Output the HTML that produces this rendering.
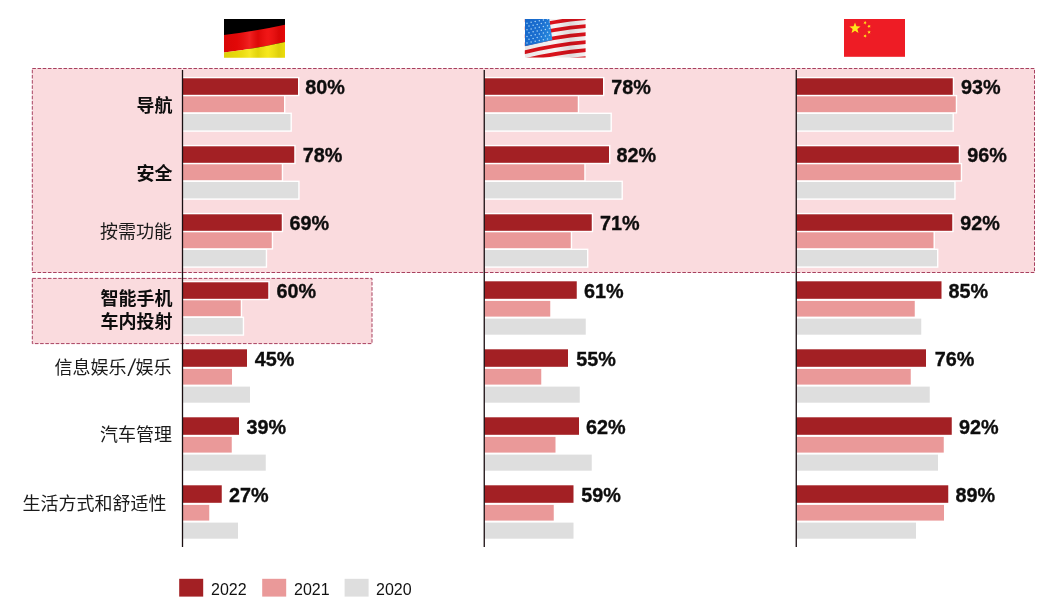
<!DOCTYPE html>
<html lang="zh"><head><meta charset="utf-8"><title>chart</title>
<style>
html,body{margin:0;padding:0;background:#fff;}
body{width:1039px;height:613px;overflow:hidden;position:relative;}
svg{position:absolute;left:0;top:0;display:block;filter:blur(0.45px);}
.p{font-family:"Liberation Sans","Noto Sans CJK SC",sans-serif;font-weight:700;font-size:20.5px;fill:#0d0d0d;stroke:#0d0d0d;stroke-width:0.35px;}
.l{font-family:"Liberation Sans","Noto Sans CJK SC",sans-serif;font-size:18px;fill:#1a1a1a;text-anchor:end;}
.b{font-weight:700;fill:#0d0d0d;}
.g{font-family:"Liberation Sans","Noto Sans CJK SC",sans-serif;font-size:16px;fill:#111;}
</style></head><body>
<svg width="1039" height="613" viewBox="0 0 1039 613">
<rect width="1039" height="613" fill="#fff"/>

<rect x="32.3" y="68.5" width="1002.2" height="204" fill="#FADBDE" stroke="#A8405F" stroke-width="1" stroke-dasharray="3.6 1.6"/>
<rect x="32.3" y="278.4" width="339.7" height="65.2" fill="#FADBDE" stroke="#A8405F" stroke-width="1" stroke-dasharray="3.6 1.6"/>
<rect x="182.50" y="76.90" width="116.90" height="19.30" fill="#fff"/>
<rect x="182.50" y="94.90" width="102.90" height="18.70" fill="#fff"/>
<rect x="182.50" y="112.60" width="109.40" height="19.20" fill="#fff"/>
<rect x="182.50" y="78.30" width="115.50" height="16.50" fill="#A32024"/>
<rect x="182.50" y="96.30" width="101.50" height="15.90" fill="#EA9999"/>
<rect x="182.50" y="114.00" width="108.00" height="16.40" fill="#DEDEDE"/>
<text class="p" transform="translate(305.30,93.70) scale(0.966,1)">80%</text>
<rect x="182.50" y="144.90" width="113.15" height="19.30" fill="#fff"/>
<rect x="182.50" y="162.90" width="100.65" height="18.70" fill="#fff"/>
<rect x="182.50" y="180.60" width="117.15" height="19.20" fill="#fff"/>
<rect x="182.50" y="146.30" width="111.75" height="16.50" fill="#A32024"/>
<rect x="182.50" y="164.30" width="99.25" height="15.90" fill="#EA9999"/>
<rect x="182.50" y="182.00" width="115.75" height="16.40" fill="#DEDEDE"/>
<text class="p" transform="translate(302.75,161.70) scale(0.966,1)">78%</text>
<rect x="182.50" y="212.90" width="100.65" height="19.30" fill="#fff"/>
<rect x="182.50" y="230.90" width="90.65" height="18.70" fill="#fff"/>
<rect x="182.50" y="248.60" width="84.65" height="19.20" fill="#fff"/>
<rect x="182.50" y="214.30" width="99.25" height="16.50" fill="#A32024"/>
<rect x="182.50" y="232.30" width="89.25" height="15.90" fill="#EA9999"/>
<rect x="182.50" y="250.00" width="83.25" height="16.40" fill="#DEDEDE"/>
<text class="p" transform="translate(289.50,229.70) scale(0.966,1)">69%</text>
<rect x="182.50" y="280.90" width="87.15" height="19.30" fill="#fff"/>
<rect x="182.50" y="298.90" width="59.65" height="18.70" fill="#fff"/>
<rect x="182.50" y="316.60" width="61.65" height="19.20" fill="#fff"/>
<rect x="182.50" y="282.30" width="85.75" height="16.50" fill="#A32024"/>
<rect x="182.50" y="300.30" width="58.25" height="15.90" fill="#EA9999"/>
<rect x="182.50" y="318.00" width="60.25" height="16.40" fill="#DEDEDE"/>
<text class="p" transform="translate(276.50,297.70) scale(0.966,1)">60%</text>
<rect x="182.50" y="349.30" width="64.50" height="17.50" fill="#A32024"/>
<rect x="182.50" y="368.90" width="49.50" height="15.70" fill="#EA9999"/>
<rect x="182.50" y="386.60" width="67.50" height="16.10" fill="#DEDEDE"/>
<text class="p" transform="translate(254.80,365.70) scale(0.966,1)">45%</text>
<rect x="182.50" y="417.30" width="56.50" height="17.50" fill="#A32024"/>
<rect x="182.50" y="436.90" width="49.25" height="15.70" fill="#EA9999"/>
<rect x="182.50" y="454.60" width="83.25" height="16.10" fill="#DEDEDE"/>
<text class="p" transform="translate(246.45,433.70) scale(0.966,1)">39%</text>
<rect x="182.50" y="485.30" width="39.25" height="17.50" fill="#A32024"/>
<rect x="182.50" y="504.90" width="26.75" height="15.70" fill="#EA9999"/>
<rect x="182.50" y="522.60" width="55.50" height="16.10" fill="#DEDEDE"/>
<text class="p" transform="translate(229.05,501.70) scale(0.966,1)">27%</text>
<rect x="484.25" y="76.90" width="120.15" height="19.30" fill="#fff"/>
<rect x="484.25" y="94.90" width="94.90" height="18.70" fill="#fff"/>
<rect x="484.25" y="112.60" width="127.65" height="19.20" fill="#fff"/>
<rect x="484.25" y="78.30" width="118.75" height="16.50" fill="#A32024"/>
<rect x="484.25" y="96.30" width="93.50" height="15.90" fill="#EA9999"/>
<rect x="484.25" y="114.00" width="126.25" height="16.40" fill="#DEDEDE"/>
<text class="p" transform="translate(611.25,93.70) scale(0.966,1)">78%</text>
<rect x="484.25" y="144.90" width="126.15" height="19.30" fill="#fff"/>
<rect x="484.25" y="162.90" width="101.40" height="18.70" fill="#fff"/>
<rect x="484.25" y="180.60" width="138.65" height="19.20" fill="#fff"/>
<rect x="484.25" y="146.30" width="124.75" height="16.50" fill="#A32024"/>
<rect x="484.25" y="164.30" width="100.00" height="15.90" fill="#EA9999"/>
<rect x="484.25" y="182.00" width="137.25" height="16.40" fill="#DEDEDE"/>
<text class="p" transform="translate(616.50,161.70) scale(0.966,1)">82%</text>
<rect x="484.25" y="212.90" width="108.90" height="19.30" fill="#fff"/>
<rect x="484.25" y="230.90" width="87.90" height="18.70" fill="#fff"/>
<rect x="484.25" y="248.60" width="104.15" height="19.20" fill="#fff"/>
<rect x="484.25" y="214.30" width="107.50" height="16.50" fill="#A32024"/>
<rect x="484.25" y="232.30" width="86.50" height="15.90" fill="#EA9999"/>
<rect x="484.25" y="250.00" width="102.75" height="16.40" fill="#DEDEDE"/>
<text class="p" transform="translate(600.00,229.70) scale(0.966,1)">71%</text>
<rect x="484.25" y="281.30" width="92.50" height="17.50" fill="#A32024"/>
<rect x="484.25" y="300.90" width="66.00" height="15.70" fill="#EA9999"/>
<rect x="484.25" y="318.60" width="101.50" height="16.10" fill="#DEDEDE"/>
<text class="p" transform="translate(584.00,297.70) scale(0.966,1)">61%</text>
<rect x="484.25" y="349.30" width="83.75" height="17.50" fill="#A32024"/>
<rect x="484.25" y="368.90" width="57.00" height="15.70" fill="#EA9999"/>
<rect x="484.25" y="386.60" width="95.50" height="16.10" fill="#DEDEDE"/>
<text class="p" transform="translate(576.25,365.70) scale(0.966,1)">55%</text>
<rect x="484.25" y="417.30" width="94.75" height="17.50" fill="#A32024"/>
<rect x="484.25" y="436.90" width="71.25" height="15.70" fill="#EA9999"/>
<rect x="484.25" y="454.60" width="107.50" height="16.10" fill="#DEDEDE"/>
<text class="p" transform="translate(586.00,433.70) scale(0.966,1)">62%</text>
<rect x="484.25" y="485.30" width="89.25" height="17.50" fill="#A32024"/>
<rect x="484.25" y="504.90" width="69.50" height="15.70" fill="#EA9999"/>
<rect x="484.25" y="522.60" width="89.25" height="16.10" fill="#DEDEDE"/>
<text class="p" transform="translate(581.25,501.70) scale(0.966,1)">59%</text>
<rect x="796.25" y="76.90" width="157.90" height="19.30" fill="#fff"/>
<rect x="796.25" y="94.90" width="160.90" height="18.70" fill="#fff"/>
<rect x="796.25" y="112.60" width="157.65" height="19.20" fill="#fff"/>
<rect x="796.25" y="78.30" width="156.50" height="16.50" fill="#A32024"/>
<rect x="796.25" y="96.30" width="159.50" height="15.90" fill="#EA9999"/>
<rect x="796.25" y="114.00" width="156.25" height="16.40" fill="#DEDEDE"/>
<text class="p" transform="translate(961.10,93.70) scale(0.966,1)">93%</text>
<rect x="796.25" y="144.90" width="163.90" height="19.30" fill="#fff"/>
<rect x="796.25" y="162.90" width="165.90" height="18.70" fill="#fff"/>
<rect x="796.25" y="180.60" width="159.40" height="19.20" fill="#fff"/>
<rect x="796.25" y="146.30" width="162.50" height="16.50" fill="#A32024"/>
<rect x="796.25" y="164.30" width="164.50" height="15.90" fill="#EA9999"/>
<rect x="796.25" y="182.00" width="158.00" height="16.40" fill="#DEDEDE"/>
<text class="p" transform="translate(967.35,161.70) scale(0.966,1)">96%</text>
<rect x="796.25" y="212.90" width="157.40" height="19.30" fill="#fff"/>
<rect x="796.25" y="230.90" width="138.65" height="18.70" fill="#fff"/>
<rect x="796.25" y="248.60" width="142.15" height="19.20" fill="#fff"/>
<rect x="796.25" y="214.30" width="156.00" height="16.50" fill="#A32024"/>
<rect x="796.25" y="232.30" width="137.25" height="15.90" fill="#EA9999"/>
<rect x="796.25" y="250.00" width="140.75" height="16.40" fill="#DEDEDE"/>
<text class="p" transform="translate(960.35,229.70) scale(0.966,1)">92%</text>
<rect x="796.25" y="281.30" width="145.25" height="17.50" fill="#A32024"/>
<rect x="796.25" y="300.90" width="118.50" height="15.70" fill="#EA9999"/>
<rect x="796.25" y="318.60" width="125.00" height="16.10" fill="#DEDEDE"/>
<text class="p" transform="translate(948.50,297.70) scale(0.966,1)">85%</text>
<rect x="796.25" y="349.30" width="129.75" height="17.50" fill="#A32024"/>
<rect x="796.25" y="368.90" width="114.50" height="15.70" fill="#EA9999"/>
<rect x="796.25" y="386.60" width="133.50" height="16.10" fill="#DEDEDE"/>
<text class="p" transform="translate(934.75,365.70) scale(0.966,1)">76%</text>
<rect x="796.25" y="417.30" width="155.50" height="17.50" fill="#A32024"/>
<rect x="796.25" y="436.90" width="147.50" height="15.70" fill="#EA9999"/>
<rect x="796.25" y="454.60" width="141.75" height="16.10" fill="#DEDEDE"/>
<text class="p" transform="translate(959.10,433.70) scale(0.966,1)">92%</text>
<rect x="796.25" y="485.30" width="152.00" height="17.50" fill="#A32024"/>
<rect x="796.25" y="504.90" width="147.75" height="15.70" fill="#EA9999"/>
<rect x="796.25" y="522.60" width="119.75" height="16.10" fill="#DEDEDE"/>
<text class="p" transform="translate(955.50,501.70) scale(0.966,1)">89%</text>
<rect x="181.85" y="70" width="1.3" height="477" fill="#1a0e11"/>
<rect x="483.60" y="70" width="1.3" height="477" fill="#1a0e11"/>
<rect x="795.60" y="70" width="1.3" height="477" fill="#1a0e11"/>
<text class="l b" x="172.6" y="111.5">导航</text>
<text class="l b" x="172.4" y="179.8">安全</text>
<text class="l" x="172" y="237.6">按需功能</text>
<text class="l b" x="172.6" y="305.3">智能手机</text>
<text class="l b" x="172.6" y="327.5">车内投射</text>
<text class="l" x="126.4" y="374.4">信息娱乐</text>
<text class="l" style="font-family:'Noto Sans CJK SC',sans-serif;text-anchor:middle" transform="translate(131.8,373.2) scale(1.36,1)" font-size="17">/</text>
<text class="l" x="171.4" y="374.4">娱乐</text>
<text class="l" x="172" y="441.4">汽车管理</text>
<text class="l" x="166.6" y="509.6">生活方式和舒适性</text>
<rect x="179.2" y="578.8" width="24" height="17.8" fill="#A32024"/>
<text class="g" x="211.0" y="594.6">2022</text>
<rect x="262.2" y="578.8" width="24" height="17.8" fill="#EA9999"/>
<text class="g" x="294.0" y="594.6">2021</text>
<rect x="344.6" y="578.8" width="24" height="17.8" fill="#DEDEDE"/>
<text class="g" x="376.0" y="594.6">2020</text>
<g transform="translate(224,19)">
<defs><clipPath id="cde"><rect x="0" y="0" width="61" height="38.8"/></clipPath>
<linearGradient id="gde" x1="0" x2="1" y1="0" y2="0">
<stop offset="0" stop-color="#000" stop-opacity="0.10"/><stop offset="0.2" stop-color="#000" stop-opacity="0.06"/><stop offset="0.42" stop-color="#fff" stop-opacity="0.10"/><stop offset="0.56" stop-color="#000" stop-opacity="0.08"/><stop offset="0.72" stop-color="#fff" stop-opacity="0.06"/><stop offset="0.9" stop-color="#000" stop-opacity="0.10"/><stop offset="1" stop-color="#000" stop-opacity="0.04"/></linearGradient></defs>
<g clip-path="url(#cde)">
<rect width="61" height="30" fill="#000"/>
<path d="M0,15.9 Q30,12.5 61,5.7 L61,23 Q30,30 0,33.5 Z" fill="#F00808"/>
<path d="M0,33.5 Q30,30 61,23 L61,40 L0,40 Z" fill="#F6E60C"/>
<path d="M0,15.9 Q30,12.5 61,5.7 L61,40 L0,40 Z" fill="url(#gde)"/>
</g></g>
<g transform="translate(524.8,19)">
<defs><clipPath id="cus"><rect x="0" y="0" width="60.8" height="38.6"/></clipPath>
<clipPath id="cca"><path d="M0,0 L24.5,0 L27.6,21.1 Q14,24.6 0,27.2 Z"/></clipPath>
<linearGradient id="gus" x1="0" x2="1" y1="0" y2="0.4"><stop offset="0" stop-color="#1667C9"/><stop offset="0.55" stop-color="#1B6FD0"/><stop offset="1" stop-color="#2B8FE0"/></linearGradient>
<linearGradient id="sus" x1="0" x2="1" y1="0" y2="0">
<stop offset="0" stop-color="#000" stop-opacity="0.05"/><stop offset="0.5" stop-color="#000" stop-opacity="0.0"/><stop offset="0.75" stop-color="#000" stop-opacity="0.10"/><stop offset="1" stop-color="#000" stop-opacity="0.0"/></linearGradient></defs>
<g clip-path="url(#cus)">
<rect width="61" height="39" fill="#F6F2F2"/>
<path d="M-1,-6.6 Q30.5,-14.3 62,-16.9" stroke="#D9121B" stroke-width="3.7" fill="none"/><path d="M-1,1.4 Q30.5,-6.3 62,-8.9" stroke="#D9121B" stroke-width="3.7" fill="none"/><path d="M-1,9.4 Q30.5,1.7 62,-0.9" stroke="#D9121B" stroke-width="3.7" fill="none"/><path d="M-1,17.4 Q30.5,9.7 62,7.1" stroke="#D9121B" stroke-width="3.7" fill="none"/><path d="M-1,25.4 Q30.5,17.7 62,15.1" stroke="#D9121B" stroke-width="3.7" fill="none"/><path d="M-1,33.4 Q30.5,25.7 62,23.1" stroke="#D9121B" stroke-width="3.7" fill="none"/><path d="M-1,41.4 Q30.5,33.7 62,31.1" stroke="#D9121B" stroke-width="3.7" fill="none"/><path d="M-1,49.4 Q30.5,41.7 62,39.1" stroke="#D9121B" stroke-width="3.7" fill="none"/>
<rect width="61" height="39" fill="url(#sus)"/>
<g clip-path="url(#cca)"><rect width="30" height="30" fill="url(#gus)"/><circle cx="2.2" cy="4.2" r="0.75" fill="#A8D4F7"/><circle cx="6.3" cy="3.3" r="0.75" fill="#A8D4F7"/><circle cx="10.4" cy="2.5" r="0.75" fill="#A8D4F7"/><circle cx="14.5" cy="1.7" r="0.75" fill="#A8D4F7"/><circle cx="18.6" cy="0.9" r="0.75" fill="#A8D4F7"/><circle cx="22.7" cy="0.1" r="0.75" fill="#A8D4F7"/><circle cx="4.2" cy="7.1" r="0.75" fill="#A8D4F7"/><circle cx="8.3" cy="6.2" r="0.75" fill="#A8D4F7"/><circle cx="12.4" cy="5.4" r="0.75" fill="#A8D4F7"/><circle cx="16.5" cy="4.6" r="0.75" fill="#A8D4F7"/><circle cx="20.6" cy="3.8" r="0.75" fill="#A8D4F7"/><circle cx="24.7" cy="3.0" r="0.75" fill="#A8D4F7"/><circle cx="2.2" cy="10.8" r="0.75" fill="#A8D4F7"/><circle cx="6.3" cy="9.9" r="0.75" fill="#A8D4F7"/><circle cx="10.4" cy="9.1" r="0.75" fill="#A8D4F7"/><circle cx="14.5" cy="8.3" r="0.75" fill="#A8D4F7"/><circle cx="18.6" cy="7.5" r="0.75" fill="#A8D4F7"/><circle cx="22.7" cy="6.7" r="0.75" fill="#A8D4F7"/><circle cx="4.2" cy="13.7" r="0.75" fill="#A8D4F7"/><circle cx="8.3" cy="12.8" r="0.75" fill="#A8D4F7"/><circle cx="12.4" cy="12.0" r="0.75" fill="#A8D4F7"/><circle cx="16.5" cy="11.2" r="0.75" fill="#A8D4F7"/><circle cx="20.6" cy="10.4" r="0.75" fill="#A8D4F7"/><circle cx="24.7" cy="9.6" r="0.75" fill="#A8D4F7"/><circle cx="2.2" cy="17.4" r="0.75" fill="#A8D4F7"/><circle cx="6.3" cy="16.5" r="0.75" fill="#A8D4F7"/><circle cx="10.4" cy="15.7" r="0.75" fill="#A8D4F7"/><circle cx="14.5" cy="14.9" r="0.75" fill="#A8D4F7"/><circle cx="18.6" cy="14.1" r="0.75" fill="#A8D4F7"/><circle cx="22.7" cy="13.3" r="0.75" fill="#A8D4F7"/><circle cx="4.2" cy="20.3" r="0.75" fill="#A8D4F7"/><circle cx="8.3" cy="19.4" r="0.75" fill="#A8D4F7"/><circle cx="12.4" cy="18.6" r="0.75" fill="#A8D4F7"/><circle cx="16.5" cy="17.8" r="0.75" fill="#A8D4F7"/><circle cx="20.6" cy="17.0" r="0.75" fill="#A8D4F7"/><circle cx="24.7" cy="16.2" r="0.75" fill="#A8D4F7"/><circle cx="2.2" cy="24.0" r="0.75" fill="#A8D4F7"/><circle cx="6.3" cy="23.1" r="0.75" fill="#A8D4F7"/><circle cx="10.4" cy="22.3" r="0.75" fill="#A8D4F7"/><circle cx="14.5" cy="21.5" r="0.75" fill="#A8D4F7"/><circle cx="18.6" cy="20.7" r="0.75" fill="#A8D4F7"/><circle cx="22.7" cy="19.9" r="0.75" fill="#A8D4F7"/></g>
</g></g>
<rect x="844" y="19" width="61" height="37.8" fill="#EE1C25"/>
<polygon points="855.00,22.40 856.46,26.30 860.61,26.48 857.36,29.07 858.47,33.07 855.00,30.78 851.53,33.07 852.64,29.07 849.39,26.48 853.54,26.30" fill="#FFE61A"/>
<polygon points="863.43,23.71 864.31,22.70 863.72,21.49 864.95,22.02 865.92,21.08 865.80,22.42 866.98,23.05 865.68,23.35 865.45,24.67 864.76,23.52" fill="#FFE61A"/>
<polygon points="867.22,26.65 868.40,26.02 868.28,24.69 869.24,25.61 870.47,25.09 869.89,26.29 870.77,27.30 869.45,27.12 868.76,28.27 868.52,26.95" fill="#FFE61A"/>
<polygon points="867.27,31.61 868.60,31.48 869.00,30.20 869.54,31.43 870.87,31.42 869.87,32.31 870.29,33.58 869.14,32.90 868.06,33.69 868.35,32.38" fill="#FFE61A"/>
<polygon points="863.59,34.85 864.87,35.24 865.73,34.21 865.76,35.55 867.00,36.04 865.73,36.48 865.65,37.82 864.84,36.75 863.54,37.08 864.30,35.98" fill="#FFE61A"/>
</svg></body></html>
